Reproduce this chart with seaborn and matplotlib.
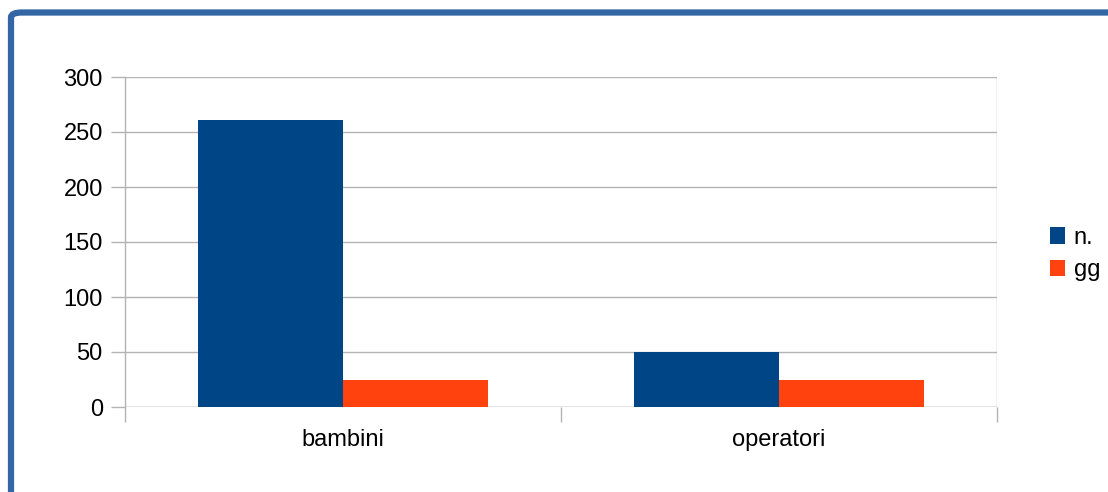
import pandas as pd
import matplotlib
matplotlib.use("Agg")
import matplotlib.pyplot as plt
import seaborn as sns
from matplotlib.patches import FancyBboxPatch, Patch

categories = ["bambini", "operatori"]
series_names = ["n.", "gg"]
n_values = [261, 50]
gg_values = [25, 25]
y_ticks = [0, 50, 100, 150, 200, 250, 300]

df = pd.DataFrame({
    "cat": categories * 2,
    "serie": [series_names[0]] * 2 + [series_names[1]] * 2,
    "val": n_values + gg_values,
})

sns.set_style("white")
plt.rcParams["font.family"] = ["Liberation Sans", "DejaVu Sans"]
plt.rcParams["text.color"] = "black"

colors = {"n.": "#004586", "gg": "#ff420e"}

fig = plt.figure(figsize=(11.08, 4.92), dpi=100)
ax = fig.add_axes([125 / 1108, 1 - 407 / 492, 872 / 1108, 330 / 492])

sns.barplot(data=df, x="cat", y="val", hue="serie", hue_order=series_names,
            palette=colors, width=0.667, saturation=1, ax=ax, legend=False,
            edgecolor="none", linewidth=0)

# ---------------------------
# axes styling
# ---------------------------
ax.set_xlim(-0.5, 1.5)
ax.set_ylim(0, 300)
ax.set_yticks(y_ticks)
ax.yaxis.grid(True, color="#b3b3b3", linewidth=1)
ax.set_axisbelow(True)
ax.set_xlabel("")
ax.set_ylabel("")
for side in ["top", "right", "bottom"]:
    ax.spines[side].set_visible(False)
ax.spines["left"].set_color("#b3b3b3")
ax.spines["left"].set_linewidth(1)
ax.axhline(0, color="#b3b3b3", linewidth=1, zorder=0.5)
ax.axvline(1.5, color="#b3b3b3", linewidth=1, zorder=0.5)

ax.tick_params(axis="y", length=10, width=1, color="#b3b3b3", pad=6,
               labelsize=17, left=True, labelcolor="black")
ax.tick_params(axis="x", which="major", length=0, pad=16, labelsize=17,
               labelcolor="black")
ax.set_xticks([-0.5, 0.5, 1.5], minor=True)
ax.tick_params(axis="x", which="minor", length=11, width=1, color="#b3b3b3",
               bottom=True)

# ---------------------------
# legend
# ---------------------------
handles = [Patch(facecolor=colors[s], edgecolor="none") for s in series_names]
fig.legend(handles, series_names, loc="center left",
           bbox_to_anchor=(1050 / 1108, 1 - 254 / 492), frameon=False,
           fontsize=17, handlelength=0.65, handleheight=0.7,
           handletextpad=0.35, labelspacing=0.45, borderpad=0,
           borderaxespad=0)

# ---------------------------
# frame around chart
# ---------------------------
border = FancyBboxPatch((11 / 1108, -0.1), 1.2, 0.1 + 1 - 12.5 / 492,
                        boxstyle="round,pad=0,rounding_size=0.01",
                        transform=fig.transFigure, facecolor="none",
                        edgecolor="#3465a4", linewidth=4.5, clip_on=False)
fig.patches.append(border)

fig.savefig("out.png", dpi=100)
